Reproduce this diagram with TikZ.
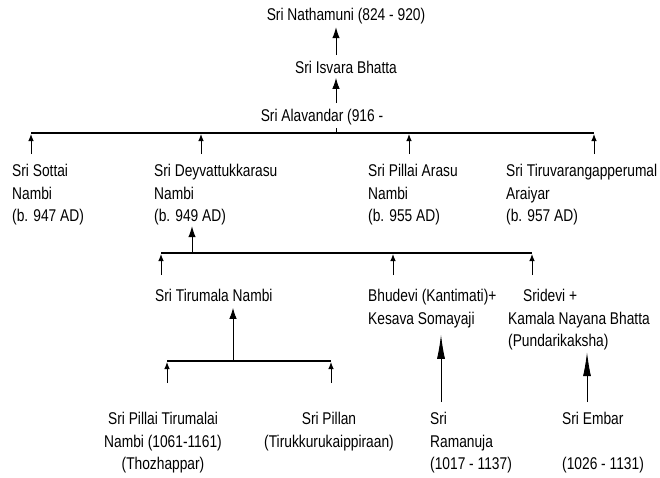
\documentclass[tikz,border=0pt]{standalone}
\usepackage{fontspec}
\setmainfont[FakeStretch=0.81]{Liberation Sans}
\usetikzlibrary{arrows.meta, positioning}

\begin{document}
\begin{tikzpicture}[
    x=1pt, y=-1pt,
    >=Latex,
    person/.style={align=left, anchor=north west, inner sep=0pt, font=\fontsize{17}{22.5}\selectfont},
    centred/.style={align=center, anchor=north, inner sep=0pt, font=\fontsize{17}{22.5}\selectfont},
    bus/.style={line width=2.4pt},
    link/.style={-{Latex[length=7pt, width=5.5pt]}, line width=0.9pt},
    midlink/.style={-{Latex[length=11pt, width=7.5pt]}, line width=0.9pt},
    biglink/.style={-{Latex[length=24pt, width=8pt]}, line width=0.9pt}
]
\path[use as bounding box, fill=white] (0,0) rectangle (660,477);

% -------------------------------------------------------------------------
% Ancestors (top spine)
% -------------------------------------------------------------------------
\node[centred] (nath) at (346, 8) {Sri Nathamuni (824 - 920)};
\node[centred] (isv) at (346, 61) {Sri Isvara Bhatta};
\node[centred] (alav) at (322, 109) {Sri Alavandar (916 -};
\coordinate (spine) at (336, 0);

% Sons of Alavandar (x = 12 ... 506)
\node[person] (sottai) at (12, 164) {Sri Sottai\\Nambi\\(b. 947 AD)};
\node[person] (deyv) at (154, 164) {Sri Deyvattukkarasu\\Nambi\\(b. 949 AD)};
\node[person] (parasu) at (368, 164) {Sri Pillai Arasu\\Nambi\\(b. 955 AD)};
\node[person] (tiruv) at (506, 164) {Sri Tiruvarangapperumal\\Araiyar\\(b. 957 AD)};

% Children of Deyvattukkarasu
\node[person] (tirumala) at (155, 289) {Sri Tirumala Nambi};
\node[person] (bhudevi) at (368, 289) {Bhudevi (Kantimati)+\\Kesava Somayaji};
\node[person] (sridevi) at (508, 289) {\hspace*{15pt}Sridevi +\\Kamala Nayana Bhatta\\(Pundarikaksha)};

% Grandchildren
\node[centred] (ptir) at (163, 412) {Sri Pillai Tirumalai\\Nambi (1061-1161)\\(Thozhappar)};
\node[centred] (pillan) at (329, 412) {Sri Pillan\\(Tirukkurukaippiraan)};
\node[person] (ramanuja) at (430, 412) {Sri\\Ramanuja\\(1017 - 1137)};
\node[person] (embar) at (562, 412) {Sri Embar\\[22.5pt](1026 - 1131)};

% -------------------------------------------------------------------------
% Bus joints
% -------------------------------------------------------------------------
\coordinate (k1) at (31, 133);
\coordinate (k2) at (201, 133);
\coordinate (k3) at (409, 133);
\coordinate (k4) at (594, 133);

\coordinate (m0) at (192, 253);
\coordinate (m1) at (161, 253);
\coordinate (m2) at (393, 253);
\coordinate (m3) at (532, 253);

\coordinate (n0) at (233, 361);
\coordinate (n1) at (167, 361);
\coordinate (n2) at (331, 361);

\coordinate (ramtop) at ([xshift=11pt]ramanuja.north west);
\coordinate (embtop) at ([xshift=25pt]embar.north west);

% -------------------------------------------------------------------------
% Connectors
% -------------------------------------------------------------------------

% spine up to Nathamuni
\draw[midlink, shorten <=6pt, shorten >=3pt] (isv.north -| spine) -- (nath.south -| spine);
\draw[midlink, shorten <=6pt, shorten >=4pt] (alav.north -| spine) -- (isv.south -| spine);
\draw[shorten <=3pt] (alav.south -| spine) -- (k1 -| spine);

% first bus
\draw[bus] (k1) -- (k4);
\draw[link, shorten <=10pt, shorten >=1pt] (sottai.north -| k1) -- (k1);
\draw[link, shorten <=10pt, shorten >=1pt] (deyv.north -| k2) -- (k2);
\draw[link, shorten <=10pt, shorten >=1pt] (parasu.north -| k3) -- (k3);
\draw[link, shorten <=10pt, shorten >=1pt] (tiruv.north -| k4) -- (k4);

% second bus
\draw[midlink, shorten >=1pt] (m0) -- (m0 |- deyv.south);
\draw[bus] (m1) -- (m3);
\draw[link, shorten <=14pt, shorten >=1pt] (tirumala.north -| m1) -- (m1);
\draw[link, shorten <=14pt, shorten >=1pt] (bhudevi.north -| m2) -- (m2);
\draw[link, shorten <=14pt, shorten >=1pt] (sridevi.north -| m3) -- (m3);

% third bus (Tirumala's sons)
\draw[midlink, shorten >=6pt] (n0) -- (n0 |- tirumala.south);
\draw[bus] (n1) -- (n2);
\draw[link, shorten <=29pt, shorten >=1pt] (ptir.north -| n1) -- (n1);
\draw[link, shorten <=29pt, shorten >=1pt] (pillan.north -| n2) -- (n2);

% Ramanuja and Embar
\draw[biglink, shorten <=10pt, shorten >=7pt] (ramtop) -- (ramtop |- bhudevi.south);
\draw[biglink, shorten <=10pt, shorten >=2pt] (embtop) -- (embtop |- sridevi.south);

\end{tikzpicture}
\end{document}
